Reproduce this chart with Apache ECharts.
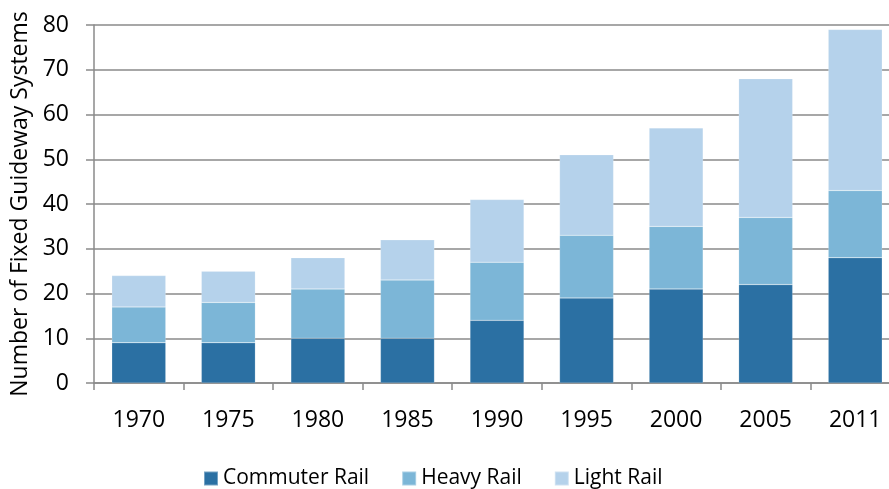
<!DOCTYPE html>
<html>
<head>
<meta charset="utf-8">
<script src="https://cdn.jsdelivr.net/npm/echarts@6/dist/echarts.min.js"></script>
<style>
  html, body { margin: 0; padding: 0; background: #fff; }
  #chart { width: 889px; height: 489px; }
</style>
</head>
<body>
<div id="chart"></div>
<script>
// 年ごとの固定軌道システム数（積み上げ）
const years = ['1970', '1975', '1980', '1985', '1990', '1995', '2000', '2005', '2011'];
const commuterRail = [9, 9, 10, 10, 14, 19, 21, 22, 28];
const heavyRail = [8, 9, 11, 13, 13, 14, 14, 15, 15];
const lightRail = [7, 7, 7, 9, 14, 18, 22, 31, 36];

(() => {
  const box = document.getElementById('chart');
  const font = '"Open Sans", sans-serif';
  const gridColor = '#8a8a8a';

  const bar = (name, data, color) => ({
    name,
    type: 'bar',
    stack: 'total',
    data,
    barWidth: 54,
    itemStyle: { color, borderColor: 'rgba(255,255,255,0.35)', borderWidth: 0.5 },
  });

  const chart = echarts.init(box, null, { renderer: 'canvas' });
  chart.setOption({
    backgroundColor: '#fff',
    animation: false,
    textStyle: { fontFamily: font },
    // 右端は画像の外まで伸びている
    grid: { left: 94, width: 806, top: 25, height: 358, containLabel: false, outerBoundsMode: 'none' },
    legend: {
      top: 468,
      left: 203,
      padding: 0,
      itemWidth: 14,
      itemHeight: 14,
      itemGap: 32,
      icon: 'rect',
      textStyle: { fontFamily: font, fontSize: 21, color: '#000' },
      data: ['Commuter Rail', 'Heavy Rail', 'Light Rail'],
    },
    xAxis: {
      type: 'category',
      data: years,
      axisLine: { lineStyle: { color: gridColor, width: 1.5 } },
      axisTick: { show: true, length: 7, alignWithLabel: false, lineStyle: { color: gridColor, width: 1.5 } },
      axisLabel: { color: '#000', fontSize: 23, margin: 26, fontFamily: font },
    },
    yAxis: {
      type: 'value',
      min: 0,
      max: 80,
      interval: 10,
      name: 'Number of Fixed Guideway Systems',
      nameLocation: 'middle',
      nameGap: 61,
      nameTextStyle: { color: '#000', fontSize: 23, fontFamily: font },
      axisLine: { show: true, lineStyle: { color: gridColor, width: 1.5 } },
      axisTick: { show: true, length: 8, lineStyle: { color: gridColor, width: 1.5 } },
      axisLabel: { color: '#000', fontSize: 23, margin: 25, fontFamily: font },
      splitLine: { lineStyle: { color: gridColor, width: 1.5 } },
    },
    series: [
      bar('Commuter Rail', commuterRail, '#2b70a3'),
      bar('Heavy Rail', heavyRail, '#7cb6d7'),
      bar('Light Rail', lightRail, '#b5d2eb'),
    ],
  });

  window.addEventListener('resize', () => chart.resize());
})();
</script>
</body>
</html>
